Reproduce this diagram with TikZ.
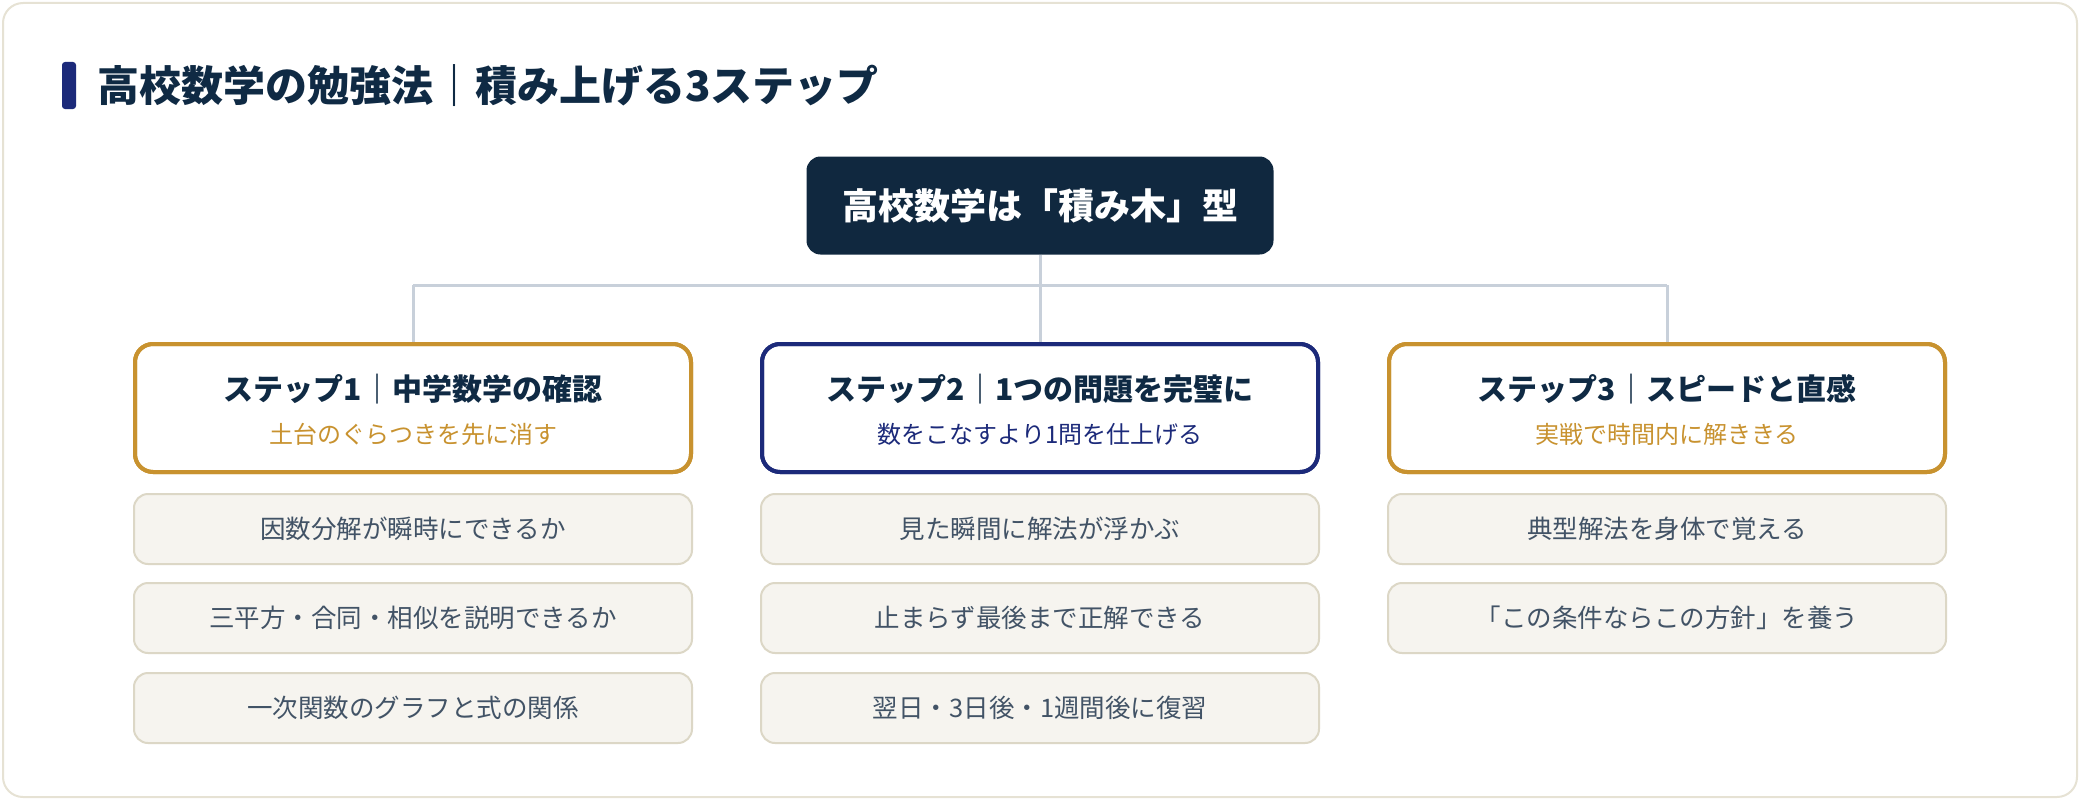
\documentclass[tikz,border=0pt]{standalone}
\usepackage{fontspec}
\setmainfont{Noto Sans CJK JP}
\definecolor{cardborder}{HTML}{E6E2D4}
\definecolor{navy}{HTML}{0F2A44}
\definecolor{rootfill}{HTML}{10283F}
\definecolor{indigo}{HTML}{1C2A7A}
\definecolor{gold}{HTML}{C8922F}
\definecolor{linkgray}{HTML}{C8D0DA}
\definecolor{itemfill}{HTML}{F6F4EF}
\definecolor{itemborder}{HTML}{DCD7C6}
\definecolor{itemtext}{HTML}{425366}
\begin{document}
\begin{tikzpicture}[x=1pt,y=-1pt,
  card/.style={draw=cardborder, line width=2pt, fill=white, rounded corners=20pt},
  rootbox/.style={fill=rootfill, rounded corners=14pt, minimum width=467pt, minimum height=98pt, inner sep=0pt, text=white, font=\fontsize{36}{40}\selectfont\bfseries},
  stepbox/.style={draw=#1, line width=4pt, fill=white, rounded corners=18pt, minimum width=556pt, minimum height=128pt, inner sep=0pt},
  steptitle/.style={text=navy, font=\fontsize{30}{34}\selectfont\bfseries, inner sep=0pt},
  stepsub/.style={text=#1, font=\fontsize{24}{28}\selectfont, inner sep=0pt},
  itembox/.style={draw=itemborder, line width=2pt, fill=itemfill, rounded corners=14pt, minimum width=558pt, minimum height=70pt, inner sep=0pt, text=itemtext, font=\fontsize{25.5}{30}\selectfont},
  link/.style={draw=linkgray, line width=3pt}
]
\useasboundingbox (0,0) rectangle (2080,800);
\path[card] (3,3) rectangle (2077,797);
% header
\fill[indigo, rounded corners=3pt] (62,62) rectangle (76,109);
\node[anchor=west, text=navy, font=\fontsize{42}{46}\selectfont\bfseries, inner sep=0pt] (title) at (97,86) {高校数学の勉強法｜積み上げる3ステップ};
% root
\node[rootbox] (root) at (1040,205.5) {高校数学は「積み木」型};
% step boxes
\node[stepbox=gold] (s1) at (413,408) {};
\node[stepbox=indigo] (s2) at (1040,408) {};
\node[stepbox=gold] (s3) at (1667,408) {};
\node[steptitle] (s1t) at (413,389) {ステップ1｜中学数学の確認};
\node[stepsub=gold] (s1s) at (413,434) {土台のぐらつきを先に消す};
\node[steptitle] (s2t) at (1040,389) {ステップ2｜1つの問題を完璧に};
\node[stepsub=indigo] (s2s) at (1040,434) {数をこなすより1問を仕上げる};
\node[steptitle] (s3t) at (1667,389) {ステップ3｜スピードと直感};
\node[stepsub=gold] (s3s) at (1667,434) {実戦で時間内に解ききる};
% connectors
\coordinate (hub) at (1040,285);
\coordinate (hl) at (413,285);
\coordinate (hr) at (1667,285);
\draw[link] (root.south) -- (hub);
\draw[link] (hl) -- (hr);
\draw[link] (hl) -- (s1.north);
\draw[link] (hub) -- (s2.north);
\draw[link] (hr) -- (s3.north);
% re-draw step box borders over line ends
\node[stepbox=gold, fill=none] (s1b) at (413,408) {};
\node[stepbox=indigo, fill=none] (s2b) at (1040,408) {};
\node[stepbox=gold, fill=none] (s3b) at (1667,408) {};
% items
\node[itembox] (a1) at (413,529) {因数分解が瞬時にできるか};
\node[itembox] (a2) at (413,618) {三平方・合同・相似を説明できるか};
\node[itembox] (a3) at (413,708) {一次関数のグラフと式の関係};
\node[itembox] (b1) at (1040,529) {見た瞬間に解法が浮かぶ};
\node[itembox] (b2) at (1040,618) {止まらず最後まで正解できる};
\node[itembox] (b3) at (1040,708) {翌日・3日後・1週間後に復習};
\node[itembox] (c1) at (1667,529) {典型解法を身体で覚える};
\node[itembox] (c2) at (1667,618) {「この条件ならこの方針」を養う};
\end{tikzpicture}
\end{document}
